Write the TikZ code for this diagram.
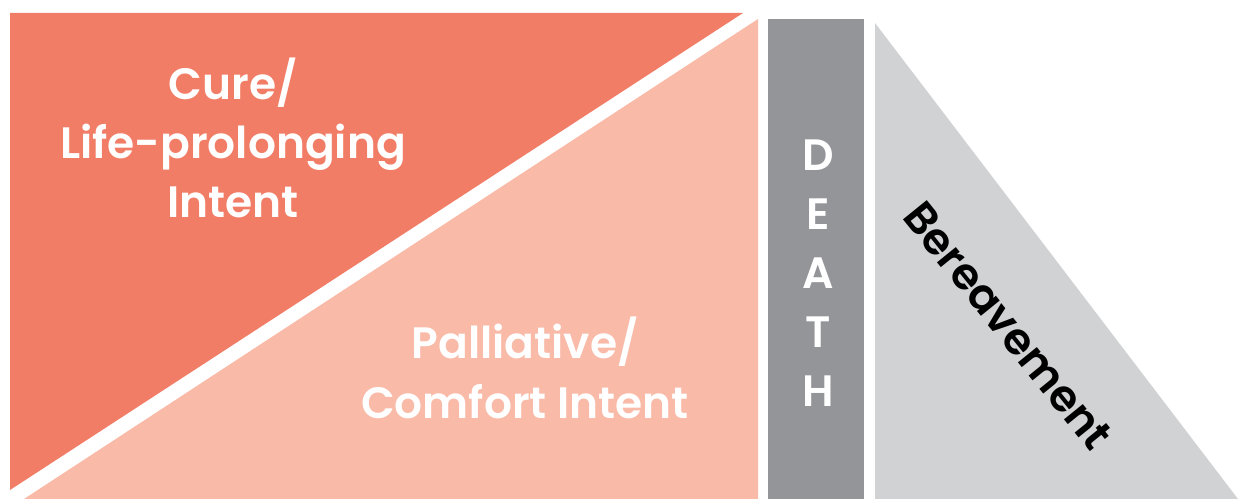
\documentclass[tikz,border=0pt]{standalone}
\usepackage{fontspec}
\setmainfont{Poppins}[BoldFont={Poppins SemiBold}]
\usepackage{tikz}

\definecolor{curecol}{HTML}{F27D66}
\definecolor{comfortcol}{HTML}{F9BAA8}
\definecolor{deathcol}{HTML}{949599}
\definecolor{grievecol}{HTML}{D1D2D4}

\begin{document}
\begin{tikzpicture}[x=0.02cm,y=-0.02cm]
    \useasboundingbox (0,0) rectangle (1250,499);

    % Cure triangle
    \fill[curecol] (10,13) -- (743,13) -- (10,490) -- cycle;
    % Comfort area
    \fill[comfortcol] (758,19) -- (758,499) -- (24,499) -- cycle;
    % Death bar
    \fill[deathcol] (768,19) rectangle (864,499);
    % Bereavement triangle
    \fill[grievecol] (875,23) -- (1238,499) -- (875,499) -- cycle;

    % Labels
    \node[white,font=\bfseries\fontsize{25}{33.8}\selectfont,align=center] (cure) at (233,138)
        {Cure/\\Life-prolonging\\Intent};
    \node[white,font=\bfseries\fontsize{25}{33.8}\selectfont,align=center] (comfort) at (525,368)
        {Palliative/\\Comfort Intent};
    \node[white,font=\bfseries\fontsize{25}{33.5}\selectfont,align=center] (death) at (818,273)
        {D\\E\\A\\T\\H};
    \node[black,font=\bfseries\fontsize{25}{34}\selectfont,rotate=-51] (grief) at (1008,326)
        {Bereavement};
\end{tikzpicture}
\end{document}
